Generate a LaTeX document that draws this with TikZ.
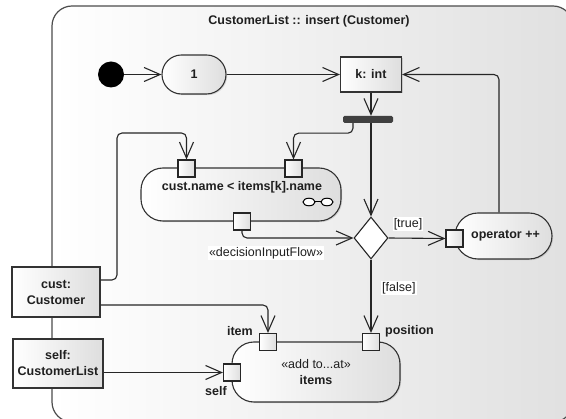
\documentclass[tikz,border=0pt]{standalone}
\usepackage{fontspec}
\setmainfont{Liberation Sans}
\usetikzlibrary{arrows.meta,shapes.geometric,shadows}
\begin{document}
\begin{tikzpicture}[x=1pt,y=-1pt,
  every node/.style={text=black!88},
  base/.style={font=\fontsize{12.5}{16}\selectfont\bfseries},
  lbl/.style={font=\fontsize{12.5}{14}\selectfont, fill=white, inner sep=1pt},
  blbl/.style={font=\fontsize{12.5}{14}\selectfont\bfseries, inner sep=1pt},
  grad/.style={left color=white, right color=black!13},
  act/.style={base, grad, draw=black!80, line width=1.1pt, inner sep=0pt, align=center,
    drop shadow={opacity=0.25,shadow xshift=1.2pt,shadow yshift=-1.2pt}},
  pin/.style={grad, draw=black!85, line width=1.1pt, minimum size=17pt, inner sep=0pt},
  obj/.style={base, grad, draw=black!80, line width=1.1pt, inner sep=0pt, align=center,
    drop shadow={opacity=0.3,shadow xshift=1.2pt,shadow yshift=-1.2pt}},
  flow/.style={draw=black!85, line width=1.1pt, rounded corners=5pt,
    -{Straight Barb[length=16pt,width=14pt]}},
]
\clip (0,0) rectangle (566,419);
% frame
\draw[left color=white, right color=black!12, draw=black!70, line width=1.2pt,
  rounded corners=20pt] (52,6) rectangle (573,422);
\node[base] (title) at (309,21) {CustomerList :: insert (Customer)};

% nodes
\node[circle, fill=black, minimum size=26pt, inner sep=0pt] (init) at (111,74.5) {};
\node[act, minimum width=64pt, minimum height=39pt, rounded corners=19.5pt] (one) at (194,74.5) {1};
\node[obj, minimum width=61pt, minimum height=35pt] (kint) at (371,74.5) {k: int};
\node[fill=black!75, rounded corners=1.5pt, minimum width=50pt, minimum height=7pt, inner sep=0pt] (fork) at (368,119.5) {};

\node[act, minimum width=200pt, minimum height=53pt, rounded corners=22pt] (cmp) at (241,194.5) {};
\node[base, inner sep=0pt] (cmptext) at (242,187) {cust.name < items[k].name};
\draw[line width=1pt, fill=white] (309,202) ellipse [x radius=6pt, y radius=3.8pt];
\draw[line width=1pt, fill=white] (327,202) ellipse [x radius=6pt, y radius=3.8pt];
\draw[line width=1pt] (315,202) -- (321,202);

\node[pin] (pinA1) at (186.5,168.5) {};
\node[pin] (pinA2) at (293.5,168.5) {};
\node[pin] (pinA3) at (242,221.5) {};

\node[draw=black!85, line width=1.1pt, fill=white, diamond, minimum width=34pt, minimum height=42pt, inner sep=0pt, aspect=0.8] (dec) at (371,238) {};

\node[act, minimum width=97pt, minimum height=46pt, rounded corners=23pt] (op) at (503.5,236) {\hspace*{4pt}operator ++};
\node[pin] (opPin) at (454.5,238.5) {};

\node[obj, minimum width=88pt, minimum height=50pt] (cust) at (56,292) {cust:\\Customer};
\node[obj, minimum width=90pt, minimum height=49pt] (self) at (58,363.5) {self:\\CustomerList};

\node[act, minimum width=168pt, minimum height=60pt, rounded corners=22pt] (items) at (316,372)
  {\mdseries «add to...at»\\items};
\node[pin] (itemPin) at (268,342) {};
\node[pin] (posPin) at (371,342) {};
\node[pin] (selfPin) at (232,372.5) {};

% labels
\node[lbl] (ltrue) at (408,224) {[true]};
\node[lbl, anchor=west] (lfalse) at (381,288) {[false]};
\node[lbl] (ldec) at (266,253) {«decisionInputFlow»};
\node[blbl, anchor=east] (litem) at (254,331) {item};
\node[blbl, anchor=west] (lpos) at (384,331) {position};
\node[blbl] (lself) at (216,391) {self};

% connectors
\draw[flow] (init) -- (one);
\draw[flow] (one) -- (kint);
\draw[flow] (kint) -- (fork.north -| kint.south);
\draw[flow] (fork.south -| dec.north) -- (dec.north);
\draw[flow] ([xshift=-15pt]fork.south) -- ++(0,10) -| (pinA2.north);
\coordinate (c1) at (117,133);
\draw[flow] ([yshift=12pt]cust.east) -| (c1) -| (pinA1.north);
\draw[flow] (pinA3.south) |- (dec.west);
\draw[flow] (dec.east) -- (opPin.west);
\draw[flow] ([xshift=-4.5pt]op.north) |- (kint.east);
\draw[flow] (dec.south) -- (posPin.north);
\draw[flow] ([yshift=-13pt]cust.east) -| (itemPin.north);
\draw[flow] (self.east |- selfPin.west) -- (selfPin.west);
\end{tikzpicture}
\end{document}
